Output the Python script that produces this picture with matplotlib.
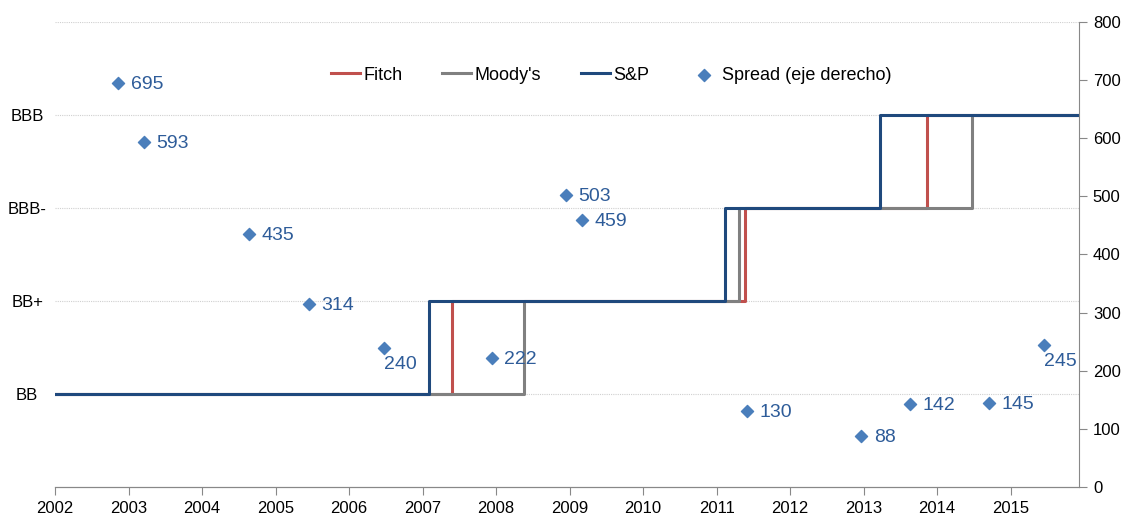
import matplotlib.pyplot as plt
import numpy as np

plt.rcParams['font.family'] = ['Liberation Sans', 'DejaVu Sans']

ratings = ['BB', 'BB+', 'BBB-', 'BBB']

# step changes: (date of change) -> rating index (1 = BB)
sp_dates = [2002.0, 2007.09, 2011.11, 2013.22, 2015.93]
sp_level = [1, 2, 3, 4, 4]
fitch_dates = [2002.0, 2007.40, 2011.38, 2013.86, 2015.93]
fitch_level = [1, 2, 3, 4, 4]
moody_dates = [2002.0, 2008.38, 2011.31, 2014.48, 2015.93]
moody_level = [1, 2, 3, 4, 4]

spread_x = [2002.86, 2003.21, 2004.64, 2005.45, 2006.47, 2007.94, 2008.95,
            2009.17, 2011.41, 2012.97, 2013.63, 2014.70, 2015.45]
spread_y = [695, 593, 435, 314, 240, 222, 503, 459, 130, 88, 142, 145, 245]

fig = plt.figure(figsize=(11.26, 5.2), dpi=100)
ax = fig.add_axes([55/1126, 1-487/520, (1079-55)/1126, (487-22)/520])
ax2 = ax.twinx()

c_fitch = '#C0504D'
c_moody = '#808080'
c_sp = '#1F497D'
c_pt = '#4A7EBB'
c_lbl = '#2E5C99'

for y in [1, 2, 3, 4, 5]:
    ax.axhline(y, color='#d0d0d0', lw=0.8, ls=(0, (1, 1)), zorder=0)

l1, = ax.step(fitch_dates, fitch_level, where='post', color=c_fitch, lw=2.2, label='Fitch', zorder=2)
l2, = ax.step(moody_dates, moody_level, where='post', color=c_moody, lw=2.2, label="Moody's", zorder=3)
l3, = ax.step(sp_dates, sp_level, where='post', color=c_sp, lw=2.2, label='S&P', zorder=4)

sc = ax2.scatter(spread_x, spread_y, marker='D', s=38, color=c_pt, zorder=5,
                 label='Spread (eje derecho)')
for x, y in zip(spread_x, spread_y):
    if y in (240, 245):
        ax2.annotate(str(y), (x, y), xytext=(0, -12), textcoords='offset points',
                     ha='left', va='center', fontsize=14, color=c_lbl)
    else:
        ax2.annotate(str(y), (x, y), xytext=(9, -1), textcoords='offset points',
                     ha='left', va='center', fontsize=14, color=c_lbl)

ax.set_xlim(2002, 2015.93)
ax.set_ylim(0, 5)
ax2.set_ylim(0, 800)

ax.set_xticks(np.arange(2002, 2016))
ax.set_yticks([1, 2, 3, 4])
ax.set_yticklabels(ratings, ha='center')
ax.tick_params(axis='y', length=0, pad=20, labelsize=12)
ax.tick_params(axis='x', direction='out', length=6, color='#888888', labelsize=12, pad=4)
ax2.set_yticks(np.arange(0, 801, 100))
ax2.tick_params(axis='y', direction='out', length=6, color='#888888', labelsize=12, pad=4)

for a in (ax, ax2):
    a.spines['top'].set_visible(False)
    a.spines['left'].set_visible(False)
    a.spines['bottom'].set_color('#888888')
    a.spines['right'].set_color('#888888')
ax.spines['right'].set_visible(False)

ax.legend(handles=[l1, l2, l3, sc], loc='center', bbox_to_anchor=(0.543, 0.886),
          ncol=4, frameon=False, fontsize=13, handlelength=1.6, handletextpad=0.2,
          columnspacing=2.2)

fig.savefig('out.png', dpi=100)
